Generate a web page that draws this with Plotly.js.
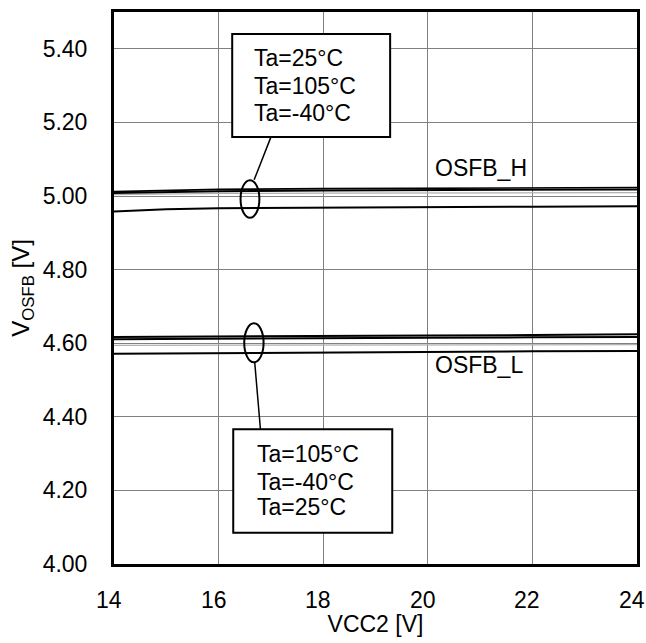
<!DOCTYPE html>
<html>
<head>
<meta charset="utf-8">
<script src="https://cdn.plot.ly/plotly-3.0.1.min.js"></script>
<style>html,body{margin:0;padding:0;background:#fff;}#chart{width:646px;height:643px;}</style>
</head>
<body>
<div id="chart"></div>
<script>
// Data
const vcc2 = [14, 15, 16, 18, 20, 22, 24];
const osfbH_a = [5.012, 5.016, 5.018, 5.020, 5.021, 5.022, 5.023];
const osfbH_b = [5.008, 5.011, 5.013, 5.015, 5.016, 5.017, 5.018];
const osfbH_c = [4.958, 4.964, 4.967, 4.969, 4.970, 4.971, 4.972];
const osfbH_grey = [5.004, 5.006, 5.007, 5.008, 5.008, 5.009, 5.009];
const osfbL_a = [4.617, 4.618, 4.619, 4.620, 4.621, 4.622, 4.624];
const osfbL_b = [4.611, 4.612, 4.613, 4.614, 4.615, 4.616, 4.617];
const osfbL_c = [4.571, 4.572, 4.573, 4.575, 4.576, 4.578, 4.579];
const osfbL_grey = [4.594, 4.594, 4.595, 4.595, 4.595, 4.596, 4.596];
const yTicks = [4.0, 4.2, 4.4, 4.6, 4.8, 5.0, 5.2, 5.4];
const xTicks = [14, 16, 18, 20, 22, 24];
const labelH = ["Ta=25°C", "Ta=105°C", "Ta=-40°C"];
const labelL = ["Ta=105°C", "Ta=-40°C", "Ta=25°C"];

const FONT = "Arial, 'Liberation Sans', sans-serif";
const black = {color: "#000", width: 2};
const grey = {color: "#b0b0b0", width: 1.3};

const traces = [
  {x: vcc2, y: osfbH_grey, mode: "lines", line: grey, showlegend: false, hoverinfo: "skip"},
  {x: vcc2, y: osfbL_grey, mode: "lines", line: grey, showlegend: false, hoverinfo: "skip"},
  {x: vcc2, y: osfbH_a, mode: "lines", line: {color: "#000", width: 1.6}, name: labelH[0], showlegend: false},
  {x: vcc2, y: osfbH_b, mode: "lines", line: black, name: labelH[1], showlegend: false},
  {x: vcc2, y: osfbH_c, mode: "lines", line: black, name: labelH[2], showlegend: false},
  {x: vcc2, y: osfbL_a, mode: "lines", line: black, name: labelL[0], showlegend: false},
  {x: vcc2, y: osfbL_b, mode: "lines", line: black, name: labelL[1], showlegend: false},
  {x: vcc2, y: osfbL_c, mode: "lines", line: black, name: labelL[2], showlegend: false}
];

// label rows (line positions inside the boxes)
const rowYH = [5.374, 5.299, 5.226];
const rowYL = [4.2995, 4.224, 4.154];

const annotations = [];
labelH.forEach((t, i) => annotations.push({xref: "x", yref: "y", x: 16.63, y: rowYH[i], xanchor: "left", yanchor: "middle",
  text: t, showarrow: false, font: {size: 23}}));
labelL.forEach((t, i) => annotations.push({xref: "x", yref: "y", x: 16.70, y: rowYL[i], xanchor: "left", yanchor: "middle",
  text: t, showarrow: false, font: {size: 23}}));
annotations.push({xref: "x", yref: "y", x: 20.1, y: 5.076, xanchor: "left", yanchor: "middle",
  text: "OSFB_H", showarrow: false, font: {size: 23}});
annotations.push({xref: "x", yref: "y", x: 20.1, y: 4.541, xanchor: "left", yanchor: "middle",
  text: "OSFB_L", showarrow: false, font: {size: 23}});
// x tick labels (slightly left of their gridlines, as in the reference)
xTicks.forEach(v => annotations.push({xref: "x", yref: "paper", x: v, y: 0, xanchor: "center", yanchor: "middle",
  xshift: -5, yshift: -36, text: String(v), showarrow: false, font: {size: 23}}));

const layout = {
  width: 646, height: 643,
  margin: {l: 114, r: 9, t: 12, b: 79, pad: 0},
  paper_bgcolor: "#fff", plot_bgcolor: "#fff",
  font: {family: FONT, size: 23, color: "#000"},
  xaxis: {
    range: [14, 24], tickvals: xTicks, showticklabels: false,
    showgrid: true, gridcolor: "#808080", gridwidth: 1,
    showline: true, mirror: true, linecolor: "#000", linewidth: 3,
    ticks: "", zeroline: false,
    title: {text: "VCC2 [V]", font: {size: 23}, standoff: 50}
  },
  yaxis: {
    range: [4.0, 5.5], tickvals: yTicks, ticktext: yTicks.map(v => v.toFixed(2)),
    showgrid: true, gridcolor: "#808080", gridwidth: 1,
    showline: true, mirror: true, linecolor: "#000", linewidth: 3,
    ticks: "", zeroline: false, ticklabelstandoff: 19,
    title: {text: "V<sub>OSFB</sub> [V]", font: {size: 24}, standoff: 7}
  },
  shapes: [
    {type: "rect", xref: "x", yref: "y", x0: 16.26, x1: 19.28, y0: 5.16, y1: 5.44, line: {color: "#000", width: 2}, fillcolor: "#fff", layer: "above"},
    {type: "rect", xref: "x", yref: "y", x0: 16.28, x1: 19.32, y0: 4.085, y1: 4.366, line: {color: "#000", width: 2}, fillcolor: "#fff", layer: "above"},
    {type: "circle", xref: "x", yref: "y", x0: 16.42, x1: 16.78, y0: 4.941, y1: 5.043, line: {color: "#000", width: 2}, layer: "above"},
    {type: "circle", xref: "x", yref: "y", x0: 16.49, x1: 16.86, y0: 4.548, y1: 4.654, line: {color: "#000", width: 2}, layer: "above"},
    {type: "line", xref: "x", yref: "y", x0: 16.68, y0: 5.044, x1: 17.0, y1: 5.16, line: {color: "#000", width: 1.5}, layer: "above"},
    {type: "line", xref: "x", yref: "y", x0: 16.69, y0: 4.549, x1: 16.80, y1: 4.366, line: {color: "#000", width: 1.5}, layer: "above"}
  ],
  annotations: annotations
};

Plotly.newPlot("chart", traces, layout, {displayModeBar: false, staticPlot: true});
</script>
</body>
</html>
